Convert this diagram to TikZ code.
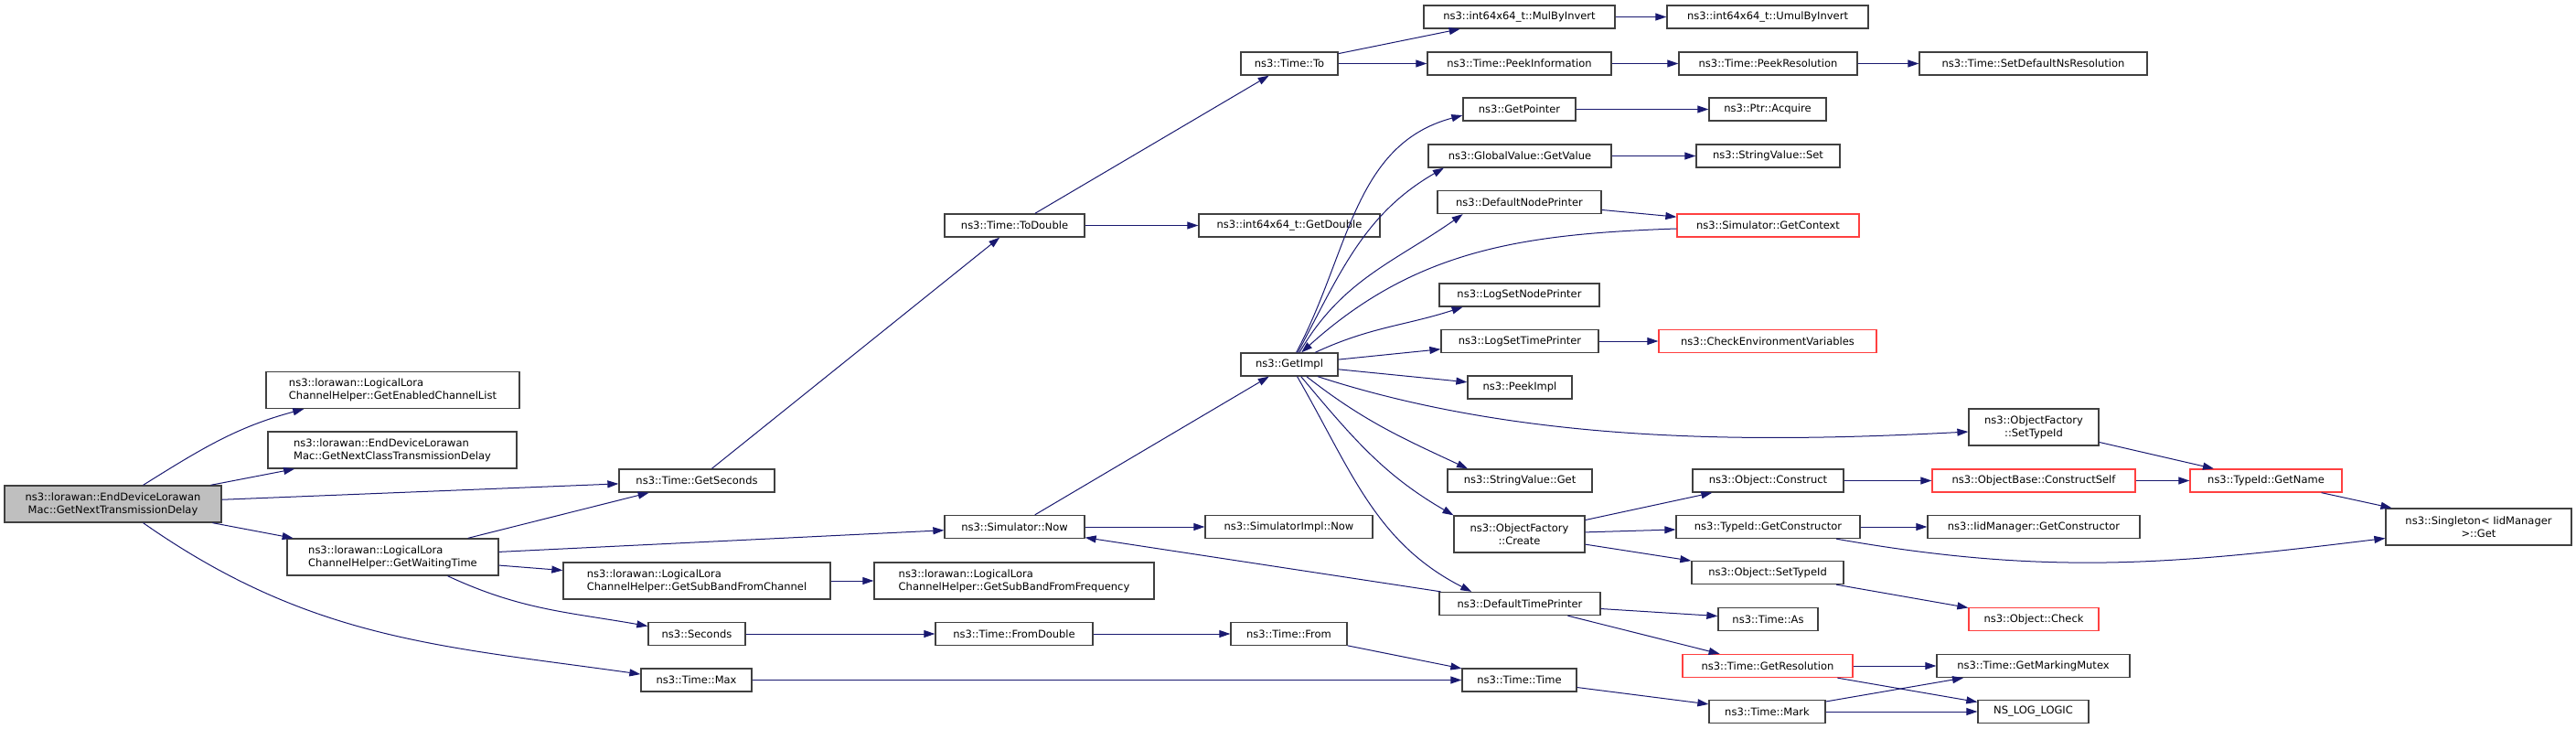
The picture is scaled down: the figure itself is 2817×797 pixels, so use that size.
\documentclass[tikz,border=0pt]{standalone}
\usepackage{fontspec}
\setmainfont{DejaVu Sans}
\usepackage{tikz}
\usetikzlibrary{arrows.meta}
\definecolor{edgeblue}{RGB}{25,25,112}
\definecolor{boxline}{RGB}{64,64,64}
\definecolor{truncred}{RGB}{255,64,64}
\definecolor{rootgray}{RGB}{191,191,191}

\begin{document}
\begin{tikzpicture}[x=1pt,y=-1pt,
    fn/.style={draw=boxline, fill=white, line width=1.3pt, inner sep=0pt,
      minimum height=25pt, align=center, font=\fontsize{11.5}{14.3}\selectfont},
    fntwo/.style={fn, minimum height=40pt},
    fnred/.style={fn, draw=truncred},
    fnroot/.style={fntwo, fill=rootgray},
    call/.style={draw=edgeblue, line width=1pt, -{Triangle[length=12pt,width=8pt]}}]
    \useasboundingbox (0,0) rectangle (2817,797);
    % caller and its direct callees
    \node[fnroot, minimum width=237pt] (main) at (123.5,551) {ns3::lorawan::EndDeviceLorawan\\Mac::GetNextTransmissionDelay};
    \node[fntwo, minimum width=277pt, align=left] (enabled) at (429.5,426.5) {ns3::lorawan::LogicalLora\\ChannelHelper::GetEnabledChannelList};
    \node[fntwo, minimum width=272pt, align=left] (nextclass) at (429,492) {ns3::lorawan::EndDeviceLorawan\\Mac::GetNextClassTransmissionDelay};
    \node[fntwo, minimum width=231pt, align=left] (waiting) at (429.5,609) {ns3::lorawan::LogicalLora\\ChannelHelper::GetWaitingTime};
    \node[fn, minimum width=170pt] (getseconds) at (762,525.5) {ns3::Time::GetSeconds};
    \node[fntwo, minimum width=292pt, align=left] (subchan) at (762,635) {ns3::lorawan::LogicalLora\\ChannelHelper::GetSubBandFromChannel};
    \node[fn, minimum width=106pt] (seconds) at (762,693) {ns3::Seconds};
    \node[fn, minimum width=121pt] (tmax) at (761.5,743.5) {ns3::Time::Max};
    % third column
    \node[fn, minimum width=153pt] (todouble) at (1109.5,246.5) {ns3::Time::ToDouble};
    \node[fn, minimum width=153pt] (simnow) at (1109.5,576) {ns3::Simulator::Now};
    \node[fntwo, minimum width=306pt, align=left] (subfreq) at (1109,635) {ns3::lorawan::LogicalLora\\ChannelHelper::GetSubBandFromFrequency};
    \node[fn, minimum width=172pt] (fromdouble) at (1109,693) {ns3::Time::FromDouble};
    % fourth column
    \node[fn, minimum width=106pt] (timeto) at (1410,69.5) {ns3::Time::To};
    \node[fn, minimum width=198pt] (getdouble) at (1410,246.5) {ns3::int64x64\_t::GetDouble};
    \node[fn, minimum width=106pt] (getimpl) at (1410,398.5) {ns3::GetImpl};
    \node[fn, minimum width=183pt] (simimplnow) at (1409.5,576) {ns3::SimulatorImpl::Now};
    \node[fn, minimum width=127pt] (timefrom) at (1409.5,693) {ns3::Time::From};
    % fifth column
    \node[fn, minimum width=209pt] (mulinv) at (1661.5,18.5) {ns3::int64x64\_t::MulByInvert};
    \node[fn, minimum width=201pt] (peekinfo) at (1661.5,69.5) {ns3::Time::PeekInformation};
    \node[fn, minimum width=123pt] (getpointer) at (1661.5,119.5) {ns3::GetPointer};
    \node[fn, minimum width=200pt] (getvalue) at (1662,170.5) {ns3::GlobalValue::GetValue};
    \node[fn, minimum width=179pt] (nodeprinter) at (1661.5,221) {ns3::DefaultNodePrinter};
    \node[fn, minimum width=175pt] (lognode) at (1661.5,322.5) {ns3::LogSetNodePrinter};
    \node[fn, minimum width=172pt] (logtime) at (1662,373) {ns3::LogSetTimePrinter};
    \node[fn, minimum width=114pt] (peekimpl) at (1662,423.5) {ns3::PeekImpl};
    \node[fn, minimum width=158pt] (strget) at (1662,525.5) {ns3::StringValue::Get};
    \node[fntwo, minimum width=143pt] (create) at (1661.5,584) {ns3::ObjectFactory\\::Create};
    \node[fn, minimum width=176pt] (timeprinter) at (1662,660) {ns3::DefaultTimePrinter};
    \node[fn, minimum width=125pt] (timetime) at (1661.5,743.5) {ns3::Time::Time};
    % sixth column
    \node[fn, minimum width=220pt] (umulinv) at (1933,18.5) {ns3::int64x64\_t::UmulByInvert};
    \node[fn, minimum width=195pt] (peekres) at (1933.5,69.5) {ns3::Time::PeekResolution};
    \node[fn, minimum width=128pt] (acquire) at (1933,119.5) {ns3::Ptr::Acquire};
    \node[fn, minimum width=157pt] (strset) at (1933.5,170.5) {ns3::StringValue::Set};
    \node[fnred, minimum width=199pt] (getcontext) at (1933.5,246.5) {ns3::Simulator::GetContext};
    \node[fnred, minimum width=238pt] (checkenv) at (1933,373) {ns3::CheckEnvironmentVariables};
    \node[fn, minimum width=165pt] (construct) at (1933.5,525.5) {ns3::Object::Construct};
    \node[fn, minimum width=201pt] (typector) at (1933.5,576) {ns3::TypeId::GetConstructor};
    \node[fn, minimum width=166pt] (objsettype) at (1933,626) {ns3::Object::SetTypeId};
    \node[fn, minimum width=109pt] (timeas) at (1933.5,677) {ns3::Time::As};
    \node[fnred, minimum width=186pt] (getres) at (1933,728) {ns3::Time::GetResolution};
    \node[fn, minimum width=127pt] (timemark) at (1932.5,778) {ns3::Time::Mark};
    % right part
    \node[fn, minimum width=249pt] (setdefns) at (2223.5,69.5) {ns3::Time::SetDefaultNsResolution};
    \node[fntwo, minimum width=142pt] (facsettype) at (2224,467) {ns3::ObjectFactory\\::SetTypeId};
    \node[fnred, minimum width=222pt] (constructself) at (2224,525.5) {ns3::ObjectBase::ConstructSelf};
    \node[fn, minimum width=232pt] (iidctor) at (2224,576) {ns3::IidManager::GetConstructor};
    \node[fnred, minimum width=142pt] (objcheck) at (2224,677) {ns3::Object::Check};
    \node[fn, minimum width=211pt] (markmutex) at (2223.5,728) {ns3::Time::GetMarkingMutex};
    \node[fn, minimum width=121pt] (nslog) at (2223.5,778) {NS\_LOG\_LOGIC};
    \node[fnred, minimum width=166pt] (getname) at (2478,525.5) {ns3::TypeId::GetName};
    \node[fntwo, minimum width=203pt] (singleton) at (2710.5,576) {ns3::Singleton< IidManager\\ >::Get};

    % calls
    \draw[call] (main.32) to[out=32,in=195] (enabled.192);
    \draw[call] (main) -- (nextclass);
    \draw[call] (main) -- (getseconds);
    \draw[call] (main) -- (waiting);
    \draw[call] (main.-32) to[out=-35,in=172] (tmax.174);
    \draw[call] (waiting) -- (getseconds);
    \draw[call] (waiting) -- (simnow);
    \draw[call] (waiting) -- (subchan);
    \draw[call] (waiting.-19) to[out=-25,in=170] (seconds.171);
    \draw[call] (getseconds) -- (todouble);
    \draw[call] (todouble) -- (timeto);
    \draw[call] (todouble) -- (getdouble);
    \draw[call] (timeto) -- (mulinv);
    \draw[call] (timeto) -- (peekinfo);
    \draw[call] (mulinv) -- (umulinv);
    \draw[call] (peekinfo) -- (peekres);
    \draw[call] (peekres) -- (setdefns);
    \draw[call] (simnow) -- (getimpl);
    \draw[call] (simnow) -- (simimplnow);
    \draw[call] (subchan) -- (subfreq);
    \draw[call] (seconds) -- (fromdouble);
    \draw[call] (fromdouble) -- (timefrom);
    \draw[call] (timefrom) -- (timetime);
    \draw[call] (tmax) -- (timetime);
    \draw[call] (getimpl.60) to[out=62,in=195] (getpointer.186);
    \draw[call] (getimpl.55) to[out=62,in=210] (getvalue.189);
    \draw[call] (getimpl.50) to[out=60,in=215] (nodeprinter.192);
    \draw[call] (getcontext.182) to[out=182,in=42] (getimpl.45);
    \draw[call] (getimpl.25) to[out=25,in=198] (lognode.192);
    \draw[call] (getimpl) -- (logtime);
    \draw[call] (getimpl) -- (peekimpl);
    \draw[call] (getimpl.-23) to[out=-18,in=183,looseness=0.85] (facsettype.184);
    \draw[call] (getimpl.-35) to[out=-38,in=155] (strget.167);
    \draw[call] (getimpl.-46) to[out=-50,in=150] (create.164);
    \draw[call] (getimpl.-57) to[out=-60,in=153] (timeprinter.166);
    \draw[call] (nodeprinter) -- (getcontext);
    \draw[call] (logtime) -- (checkenv);
    \draw[call] (getpointer) -- (acquire);
    \draw[call] (getvalue) -- (strset);
    \draw[call] (timeprinter) -- (simnow);
    \draw[call] (timeprinter) -- (timeas);
    \draw[call] (timeprinter) -- (getres);
    \draw[call] (create) -- (construct);
    \draw[call] (create) -- (typector);
    \draw[call] (create) -- (objsettype);
    \draw[call] (construct) -- (constructself);
    \draw[call] (typector) -- (iidctor);
    \draw[call] (typector) to[out=-10,in=187] (singleton);
    \draw[call] (objsettype) -- (objcheck);
    \draw[call] (facsettype) -- (getname);
    \draw[call] (constructself) -- (getname);
    \draw[call] (getname) -- (singleton);
    \draw[call] (getres) -- (markmutex);
    \draw[call] (getres) -- (nslog);
    \draw[call] (timetime) -- (timemark);
    \draw[call] (timemark) -- (markmutex);
    \draw[call] (timemark) -- (nslog);
\end{tikzpicture}
\end{document}
